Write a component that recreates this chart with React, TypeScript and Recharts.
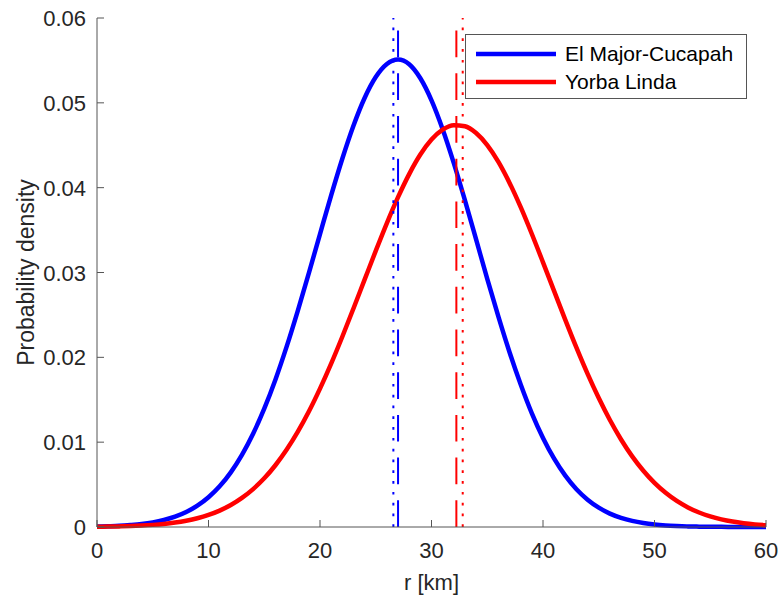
import React from 'react';
import { LineChart, Line, XAxis, YAxis, ReferenceLine } from 'recharts';

// distance from the fault, km
const rKm = [
  0, 1, 2, 3, 4, 5, 6, 7, 8, 9, 10, 11, 12, 13, 14, 15, 16, 17, 18, 19, 20,
  21, 22, 23, 24, 25, 26, 27, 28, 29, 30, 31, 32, 33, 34, 35, 36, 37, 38, 39, 40,
  41, 42, 43, 44, 45, 46, 47, 48, 49, 50, 51, 52, 53, 54, 55, 56, 57, 58, 59, 60
];

const elMajorDensity = [
  0.00005, 0.00009, 0.00014, 0.00023, 0.00035, 0.00054, 0.00082, 0.00121, 0.00176, 0.00251, 0.0035,
  0.00479, 0.00644, 0.0085, 0.01099, 0.01395, 0.01737, 0.02123, 0.02545, 0.02993, 0.03453,
  0.03909, 0.04341, 0.0473, 0.05057, 0.05304, 0.05458, 0.0551, 0.05455, 0.0529, 0.0503,
  0.0469, 0.0429, 0.0385, 0.0339, 0.02925, 0.0248, 0.0206, 0.0168, 0.0134, 0.0105,
  0.00805, 0.00605, 0.00445, 0.00322, 0.00228, 0.00158, 0.00108, 0.00072, 0.00047, 0.0003,
  0.00019, 0.00012, 0.00007, 0.00004, 0.00003, 0.00002, 0.00001, 0.00001, 0.0, 0.0
];

const yorbaDensity = [
  0.00003, 0.00005, 0.00007, 0.00011, 0.00017, 0.00025, 0.00036, 0.00052, 0.00074, 0.00103, 0.00142,
  0.00193, 0.00259, 0.00343, 0.00447, 0.00574, 0.00728, 0.0091, 0.01121, 0.01361, 0.01631,
  0.01926, 0.02243, 0.02576, 0.02916, 0.03255, 0.03583, 0.03888, 0.0416, 0.0439, 0.04567,
  0.04684, 0.04737, 0.04724, 0.04644, 0.04502, 0.04304, 0.04056, 0.0377, 0.03454, 0.0312,
  0.0278, 0.02442, 0.02114, 0.01805, 0.0152, 0.01261, 0.01032, 0.00833, 0.00663, 0.0052,
  0.00403, 0.00307, 0.00231, 0.00171, 0.00125, 0.0009, 0.00064, 0.00045, 0.00031, 0.00021
];

// vertical markers [dotted, dashed] for each event
const elMajorMarks = [26.58, 27.0];
const yorbaMarks = [32.8, 32.23];

const seriesNames = ['El Major-Cucapah', 'Yorba Linda'];
const xTicks = [0, 10, 20, 30, 40, 50, 60];
const yTicks = [0, 0.01, 0.02, 0.03, 0.04, 0.05, 0.06];

const data = rKm.map((r, i) => ({ r, elMajor: elMajorDensity[i], yorba: yorbaDensity[i] }));

const FONT = '"Liberation Sans", Arial, Helvetica, sans-serif';
const TEXT = '#262626';
const AXIS = '#555555';
const BLUE = '#0000ff';
const RED = '#ff0000';
const DOTTED = '2.7 8.1';
const DASHED = '26.7 16';

const XTick = (props: any) => {
  const { x, y, payload } = props;
  return (
    <g>
      <line x1={x} x2={x} y1={y} y2={y - 7} stroke={AXIS} strokeWidth={1} />
      <text x={x} y={y + 31} textAnchor="middle" fill={TEXT} fontSize={22} fontFamily={FONT}>
        {payload.value}
      </text>
    </g>
  );
};

const YTick = (props: any) => {
  const { x, y, payload } = props;
  return (
    <g>
      <line x1={x} x2={x + 7} y1={y} y2={y} stroke={AXIS} strokeWidth={1} />
      <text x={x - 11} y={y + 8} textAnchor="end" fill={TEXT} fontSize={22} fontFamily={FONT}>
        {String(payload.value)}
      </text>
    </g>
  );
};

const XTitle = (props: any) => {
  const { viewBox } = props;
  const cx = viewBox.x + viewBox.width / 2;
  return (
    <text x={cx} y={590} textAnchor="middle" fill={TEXT} fontSize={22} fontFamily={FONT}>
      r [km]
    </text>
  );
};

const YTitle = (props: any) => {
  const { viewBox } = props;
  const cx = 34;
  const cy = viewBox.y + viewBox.height / 2;
  return (
    <text
      x={cx}
      y={cy}
      transform={`rotate(-90 ${cx} ${cy})`}
      textAnchor="middle"
      fill={TEXT}
      fontSize={23}
      fontFamily={FONT}
    >
      Probability density
    </text>
  );
};

const markerLine = (r: number, color: string, dash: string, key: string) => (
  <ReferenceLine
    key={key}
    segment={[{ x: r, y: 0 }, { x: r, y: 0.06 }]}
    stroke={color}
    strokeWidth={2}
    strokeDasharray={dash}
  />
);

export default function App() {
  const colors = [BLUE, RED];
  return (
    <div style={{ position: 'absolute', left: 0, top: 0, width: 781, height: 597, background: '#fff' }}>
      <LineChart width={781} height={597} data={data} margin={{ top: 18, right: 15, bottom: 0, left: 0 }}>
        <XAxis
          dataKey="r"
          type="number"
          domain={[0, 60]}
          ticks={xTicks}
          height={70}
          tickSize={0}
          tickMargin={0}
          tickLine={false}
          tick={<XTick />}
          axisLine={{ stroke: AXIS, strokeWidth: 1 }}
          label={<XTitle />}
        />
        <YAxis
          type="number"
          domain={[0, 0.06]}
          ticks={yTicks}
          width={97}
          tickSize={0}
          tickMargin={0}
          tickLine={false}
          tick={<YTick />}
          axisLine={{ stroke: AXIS, strokeWidth: 1 }}
          label={<YTitle />}
        />
        <Line type="monotone" dataKey="elMajor" stroke={BLUE} strokeWidth={4.5} dot={false} isAnimationActive={false} />
        <Line type="monotone" dataKey="yorba" stroke={RED} strokeWidth={4.5} dot={false} isAnimationActive={false} />
        {markerLine(elMajorMarks[0], BLUE, DOTTED, 'b0')}
        {markerLine(elMajorMarks[1], BLUE, DASHED, 'b1')}
        {markerLine(yorbaMarks[0], RED, DOTTED, 'r0')}
        {markerLine(yorbaMarks[1], RED, DASHED, 'r1')}
      </LineChart>
      <div
        style={{
          position: 'absolute',
          left: 465,
          top: 34,
          width: 280,
          height: 63,
          border: '1px solid #555',
          background: '#fff',
          fontFamily: FONT,
          fontSize: 21,
          color: '#000',
          boxSizing: 'content-box',
        }}
      >
        {seriesNames.map((name, i) => (
          <div
            key={name}
            style={{ position: 'absolute', left: 10, top: 5 + i * 28, height: 28, display: 'flex', alignItems: 'center' }}
          >
            <svg width={80} height={6} style={{ display: 'block' }}>
              <line x1={0} x2={80} y1={3} y2={3} stroke={colors[i]} strokeWidth={4.5} />
            </svg>
            <span style={{ marginLeft: 9, whiteSpace: 'nowrap' }}>{name}</span>
          </div>
        ))}
      </div>
    </div>
  );
}
